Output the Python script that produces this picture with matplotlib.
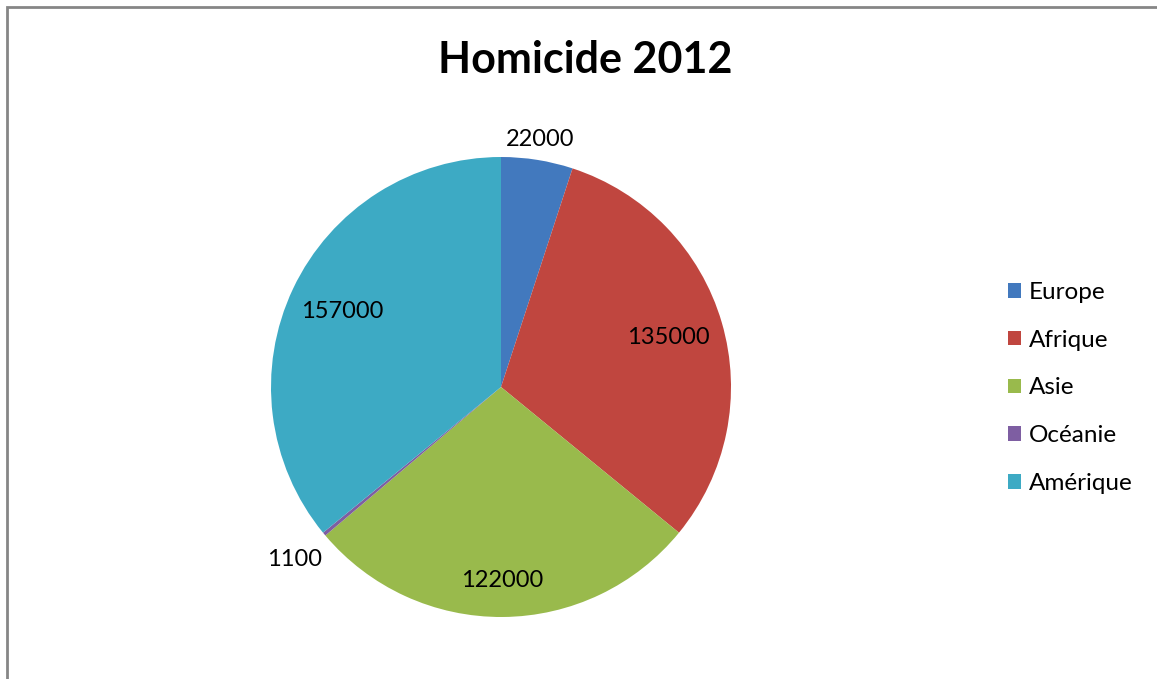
import matplotlib.pyplot as plt
import numpy as np
from matplotlib.patches import Rectangle

plt.rcParams['font.family'] = ['Lato', 'DejaVu Sans']

regions = ['Europe', 'Afrique', 'Asie', 'Océanie', 'Amérique']
homicides = [22000, 135000, 122000, 1100, 157000]
colours = ['#4279BE', '#C0463F', '#99BA4C', '#7E5EA2', '#3DAAC4']
# how far from the centre each value label sits (in radii)
label_dist = [1.09, 0.76, 0.84, 1.17, 0.765]

W, H = 1157, 679
fig = plt.figure(figsize=(W / 100, H / 100), dpi=100)

# grey frame, only top and left edges fall inside the image
fig.patches.append(Rectangle((7 / W, -0.1), 1.2, (H - 7) / H + 0.1,
                             transform=fig.transFigure, fill=False,
                             edgecolor='#868686', linewidth=2))

cx, cy, r = 501, 387, 230
ax = fig.add_axes([(cx - r) / W, (H - cy - r) / H, 2 * r / W, 2 * r / H])
wedges, _ = ax.pie(homicides, colors=colours, startangle=90, counterclock=False,
                   radius=1, wedgeprops=dict(linewidth=0))
ax.set_xlim(-1, 1)
ax.set_ylim(-1, 1)
ax.set_aspect('equal')
ax.axis('off')

for w, val, d in zip(wedges, homicides, label_dist):
    mid = np.deg2rad((w.theta1 + w.theta2) / 2)
    ax.text(d * np.cos(mid), d * np.sin(mid), str(val), ha='center', va='center',
            fontsize=17, color='black', clip_on=False)

fig.text(585 / W, 1 - 60 / H, 'Homicide 2012', ha='center', va='center',
         fontsize=31, fontweight='bold')

fig.legend(wedges, regions, loc='center left', bbox_to_anchor=(1008 / W, 1 - 388 / H),
           frameon=False, fontsize=17.5, handlelength=0.55, handleheight=0.55,
           handletextpad=0.3, labelspacing=1.1, borderpad=0, borderaxespad=0)

fig.savefig('out.png', dpi=100)
